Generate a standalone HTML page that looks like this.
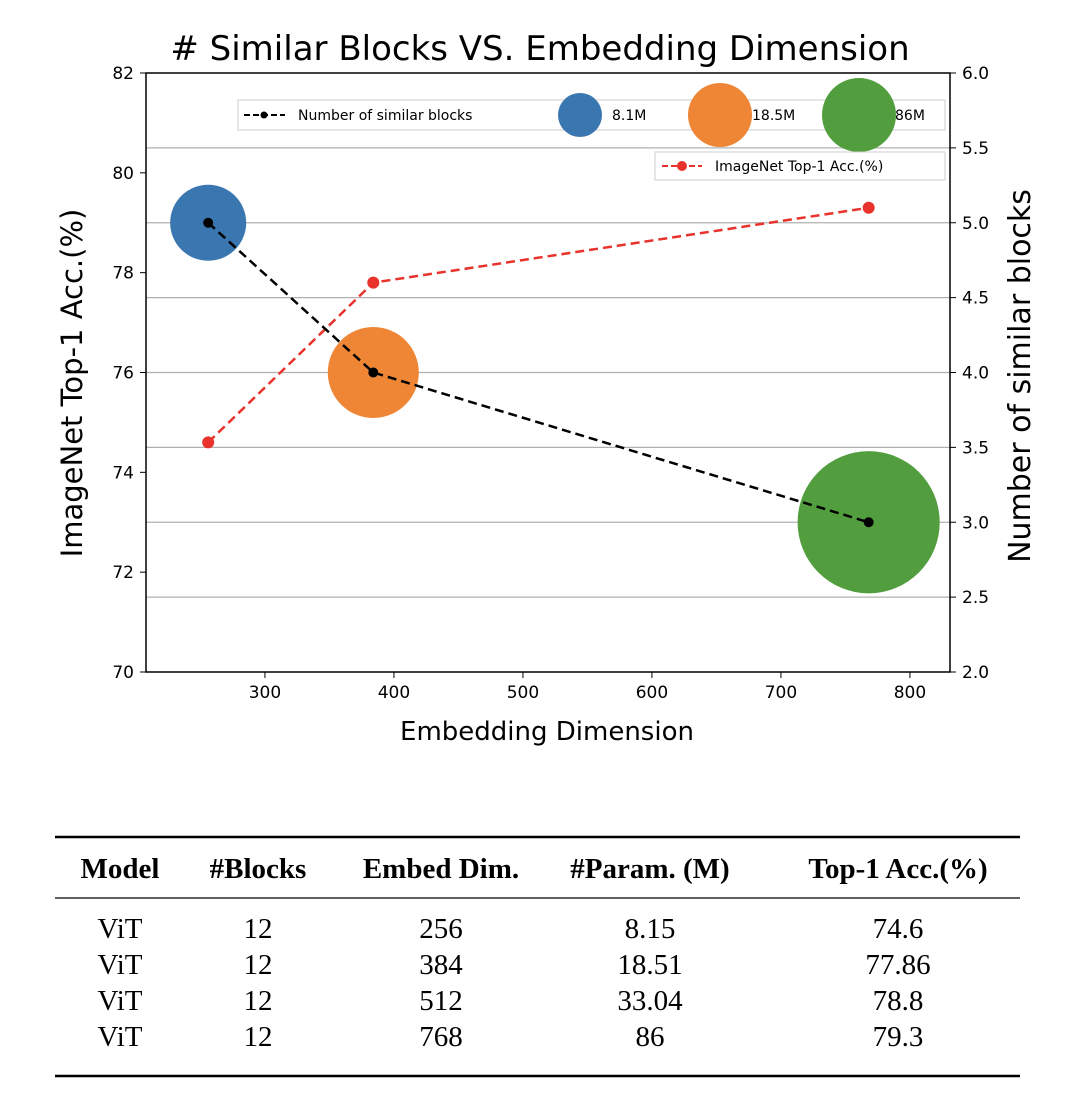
<!DOCTYPE html>
<html><head><meta charset="utf-8"><style>
body{margin:0;background:#fff;width:1076px;height:1104px;overflow:hidden}
svg text{font-family:"DejaVu Sans","Liberation Sans",sans-serif}
.t{font-family:"Liberation Serif",serif;font-size:29px;fill:#000}
</style></head><body>
<svg id="s" width="1076" height="1104">
<text x="540" y="60" text-anchor="middle" font-size="34"># Similar Blocks VS. Embedding Dimension</text>
<g id="grid"></g><g id="marks"></g>
<rect x="146" y="73" width="804" height="599" fill="none" stroke="#000" stroke-width="1.5"/>
<g id="axes"></g>
<text x="547" y="740" text-anchor="middle" font-size="26">Embedding Dimension</text>
<text transform="translate(82,383) rotate(-90)" text-anchor="middle" font-size="29">ImageNet Top-1 Acc.(%)</text>
<text transform="translate(1030,376) rotate(-90)" text-anchor="middle" font-size="30">Number of similar blocks</text>
<g>
<rect x="238" y="100" width="707" height="30" fill="#fff" fill-opacity="0.85" stroke="#ccc"/>
<line x1="244" y1="115" x2="285" y2="115" stroke="#000" stroke-width="2" stroke-dasharray="6,3"/><circle cx="264" cy="115" r="3.5" fill="#000"/>
<text x="298" y="120" font-size="14">Number of similar blocks</text>
<circle cx="580" cy="115" r="22" fill="#3a76af"/><text x="612" y="120" font-size="14">8.1M</text>
<circle cx="720" cy="115" r="32" fill="#ef8636"/><text x="752" y="120" font-size="14">18.5M</text>
<circle cx="859" cy="115" r="37" fill="#529e3e"/><text x="895" y="120" font-size="14">86M</text>
</g>
<g>
<rect x="655" y="152" width="290" height="28" fill="#fff" stroke="#ccc"/>
<line x1="662" y1="166" x2="702" y2="166" stroke="#e8322b" stroke-width="2" stroke-dasharray="6,3"/><circle cx="682" cy="166" r="5" fill="#e8322b"/>
<text x="715" y="171" font-size="14">ImageNet Top-1 Acc.(%)</text>
</g>
<g>
<line x1="55" y1="837" x2="1020" y2="837" stroke="#000" stroke-width="2.5"/>
<line x1="55" y1="898" x2="1020" y2="898" stroke="#000" stroke-width="1.3"/>
<line x1="55" y1="1076" x2="1020" y2="1076" stroke="#000" stroke-width="2.5"/>
<g id="tbl"></g>
</g>
</svg>
<script>
const xTicks=[300,400,500,600,700,800];
const yLeftTicks=[70,72,74,76,78,80,82];
const yRightTicks=[2.0,2.5,3.0,3.5,4.0,4.5,5.0,5.5,6.0];
const dims=[256,384,768];
const accuracy=[74.6,77.8,79.3];
const blocks=[5,4,3];
const params=[8.1,18.5,86];
const bubbleColors=['#3a76af','#ef8636','#529e3e'];
const headers=['Model','#Blocks','Embed Dim.','#Param. (M)','Top-1 Acc.(%)'];
const rows=[['ViT','12','256','8.15','74.6'],['ViT','12','384','18.51','77.86'],['ViT','12','512','33.04','78.8'],['ViT','12','768','86','79.3']];
const X=v=>146+(v-207.8)*1.29;
const YL=v=>672-(v-70)*599/12;
const YR=v=>672-(v-2)*599/4;
const R=p=>23.4+5.14*Math.sqrt(p);
const NS='http://www.w3.org/2000/svg';
function mk(p,tag,a,txt){const e=document.createElementNS(NS,tag);for(const k in a)e.setAttribute(k,a[k]);if(txt!=null)e.textContent=txt;document.getElementById(p).appendChild(e);return e;}
yRightTicks.forEach(v=>{if(v>2&&v<6){const l=mk('grid','line',{x1:146,x2:950,y1:YR(v),y2:YR(v),stroke:'#b0b0b0','stroke-width':1.2});

}});
xTicks.forEach(v=>{mk('axes','line',{x1:X(v),x2:X(v),y1:672,y2:678,stroke:'#000'});const t=mk('axes','text',{x:X(v),y:698,'text-anchor':'middle','font-size':17},v);

});
yLeftTicks.forEach(v=>{mk('axes','line',{x1:140,x2:146,y1:YL(v),y2:YL(v),stroke:'#000'});const t=mk('axes','text',{x:134,y:YL(v)+6,'text-anchor':'end','font-size':17},v);

});
yRightTicks.forEach(v=>{mk('axes','line',{x1:950,x2:956,y1:YR(v),y2:YR(v),stroke:'#000'});const t=mk('axes','text',{x:962,y:YR(v)+6,'font-size':17},v.toFixed(1));

});
dims.forEach((d,i)=>{const c=mk('marks','circle',{cx:X(d),cy:YR(blocks[i]),r:R(params[i]),fill:bubbleColors[i]});

});
const acc=mk('marks','polyline',{points:dims.map((d,i)=>X(d)+','+YL(accuracy[i])).join(' '),fill:'none',stroke:'#e8322b','stroke-width':2.5,'stroke-dasharray':'9,5'});


dims.forEach((d,i)=>{const c=mk('marks','circle',{cx:X(d),cy:YL(accuracy[i]),r:6,fill:'#e8322b'});

});
const bl=mk('marks','polyline',{points:dims.map((d,i)=>X(d)+','+YR(blocks[i])).join(' '),fill:'none',stroke:'#000','stroke-width':2.5,'stroke-dasharray':'9,5'});


dims.forEach((d,i)=>{const c=mk('marks','circle',{cx:X(d),cy:YR(blocks[i]),r:5,fill:'#000'});

});
const cols=[120,258,441,650,898];
headers.forEach((h,i)=>{const t=mk('tbl','text',{x:cols[i],y:878,'text-anchor':'middle',class:'t','font-weight':'bold','font-size':30},h);

});
rows.forEach((r,j)=>r.forEach((c,i)=>{const t=mk('tbl','text',{x:cols[i],y:938+j*36,'text-anchor':'middle',class:'t'},c);

}));
</script>
</body></html>
